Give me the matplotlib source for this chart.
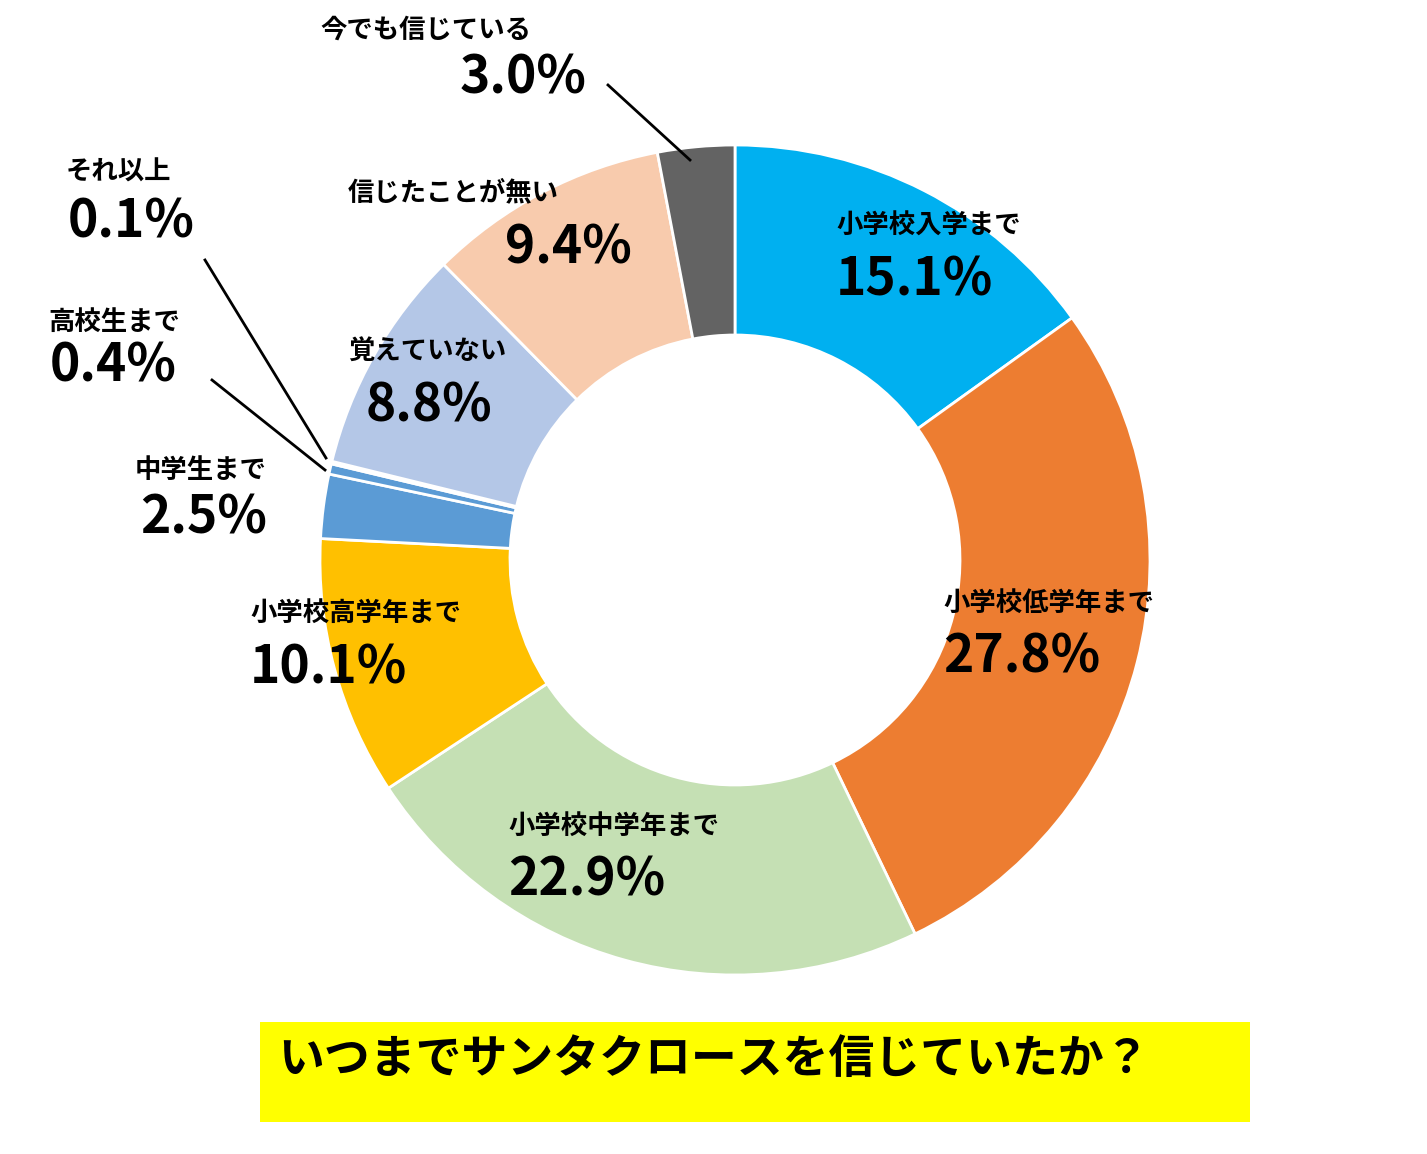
import matplotlib
matplotlib.use("Agg")
import matplotlib.pyplot as plt
from matplotlib.patches import Rectangle

categories = ["小学校入学まで","小学校低学年まで","小学校中学年まで","小学校高学年まで","中学生まで",
              "高校生まで","それ以上","覚えていない","信じたことが無い","今でも信じている"]
values = [15.1, 27.8, 22.9, 10.1, 2.5, 0.4, 0.1, 8.8, 9.4, 3.0]
colors = ["#00B0F0","#ED7D31","#C5E0B4","#FFC000","#5B9BD5","#5B9BD5","#A5A5A5","#B4C7E7","#F8CBAD","#636363"]
title = "いつまでサンタクロースを信じていたか？"

W, H = 1427, 1154
fig = plt.figure(figsize=(W/100, H/100), dpi=100)
ax = fig.add_axes([0, 0, 1, 1])
ax.set_xlim(0, W); ax.set_ylim(0, H); ax.set_aspect("equal"); ax.axis("off")
plt.rcParams["font.family"] = "Noto Sans CJK JP"

cx, cy = 735, H - 560
ax.pie(values, colors=colors, startangle=90, counterclock=False, center=(cx, cy), radius=415,
       wedgeprops=dict(width=190, edgecolor="white", linewidth=2), frame=True)
ax.set_xlim(0, W); ax.set_ylim(0, H); ax.axis("off")

# label anchor positions (pixel coords, top-left of name and percent lines)
pos = [((836,226),(836,280)), ((943,603),(943,657)), ((508,826),(508,880)), ((250,613),(250,668)),
       ((135,470),(140,518)), ((48,322),(50,366)), ((66,172),(68,222)), ((348,352),(366,406)),
       ((348,193),(505,248)), ((320,30),(460,78))]
for name, v, (p1, p2) in zip(categories, values, pos):
    ax.text(p1[0], H - p1[1], name, fontsize=19, fontweight="bold", ha="left", va="center", family="Noto Sans CJK JP")
    ax.text(p2[0], H - p2[1], f"{v:.1f}%", fontsize=37, fontweight="bold", ha="left", va="center", family="Noto Sans CJK JP")

for (x1, y1), (x2, y2) in [((608,85),(690,160)), ((205,260),(326,458)), ((212,380),(325,470))]:
    ax.plot([x1, x2], [H - y1, H - y2], color="black", lw=2)

ax.add_patch(Rectangle((260, H - 1122), 990, 100, facecolor="#FFFF00", edgecolor="none"))
ax.text(278, H - 1060, title, fontsize=33, fontweight="bold", ha="left", va="center", family="Noto Sans CJK JP")

fig.savefig("out.png", dpi=100)
